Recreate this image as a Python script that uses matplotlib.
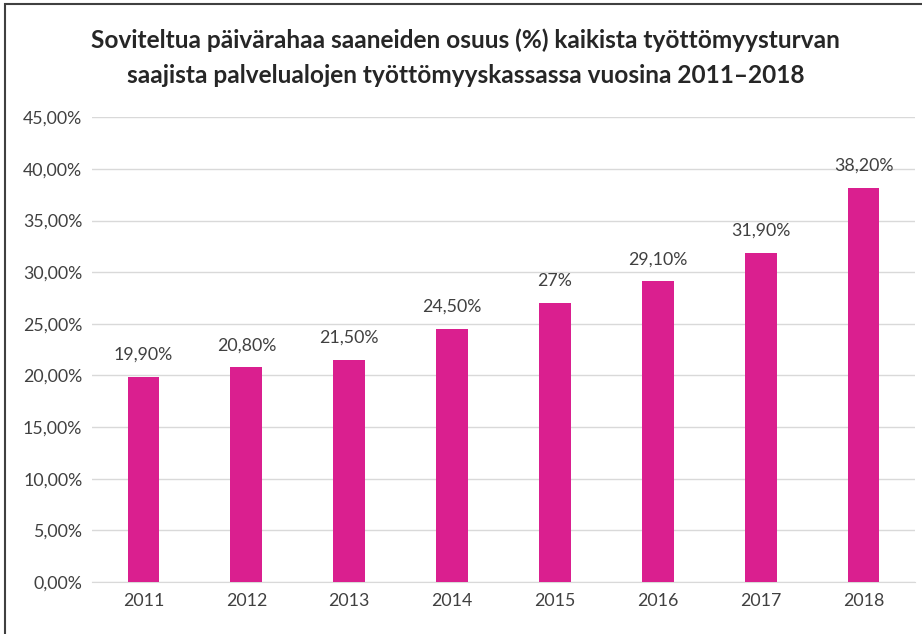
import matplotlib
matplotlib.use("Agg")
import matplotlib.pyplot as plt
from matplotlib.patches import Rectangle

years = ["2011", "2012", "2013", "2014", "2015", "2016", "2017", "2018"]
values = [19.9, 20.8, 21.5, 24.5, 27.0, 29.1, 31.9, 38.2]
labels = ["19,90%", "20,80%", "21,50%", "24,50%", "27%", "29,10%", "31,90%", "38,20%"]
yticks = [0, 5, 10, 15, 20, 25, 30, 35, 40, 45]
ytick_labels = ["0,00%", "5,00%", "10,00%", "15,00%", "20,00%", "25,00%", "30,00%", "35,00%", "40,00%", "45,00%"]
title = "Soviteltua päivärahaa saaneiden osuus (%) kaikista työttömyysturvan\nsaajista palvelualojen työttömyyskassassa vuosina 2011–2018"

plt.rcParams['font.family'] = ['Lato', 'DejaVu Sans']
text_color = "#404040"
bar_color = "#DA1F8F"

fig = plt.figure(figsize=(9.22, 6.34), dpi=100)
ax = fig.add_axes([0.0998, 0.082, 0.8925, 0.733])

x = list(range(len(years)))
ax.bar(x, values, width=0.31, color=bar_color, zorder=3)
for xi, v, lab in zip(x, values, labels):
    ax.annotate(lab, (xi, v), xytext=(0, 10), textcoords="offset points",
                ha="center", va="bottom", fontsize=12.8, color=text_color)

ax.set_xlim(-0.5, 7.5)
ax.set_ylim(0, 45)
ax.set_yticks(yticks)
ax.set_yticklabels(ytick_labels)
ax.set_xticks(x)
ax.set_xticklabels(years)
ax.tick_params(axis="both", length=0, labelsize=12.8, colors=text_color)
ax.tick_params(axis="y", pad=7)
ax.tick_params(axis="x", pad=8)
ax.grid(axis="y", color="#d9d9d9", linewidth=1, zorder=0)
for s in ["top", "right", "left"]:
    ax.spines[s].set_visible(False)
ax.spines["bottom"].set_color("#d9d9d9")

fig.text(0.505, 0.9085, title, ha="center", va="center", fontsize=17.6,
         fontweight="bold", color="#262626", linespacing=1.65)

fig.patches.append(Rectangle((5/922, -0.1), 1.2, 1 - 4/634 + 0.1, transform=fig.transFigure,
                             fill=False, edgecolor="#404040", linewidth=1.5))

fig.savefig("out.png", dpi=100)
